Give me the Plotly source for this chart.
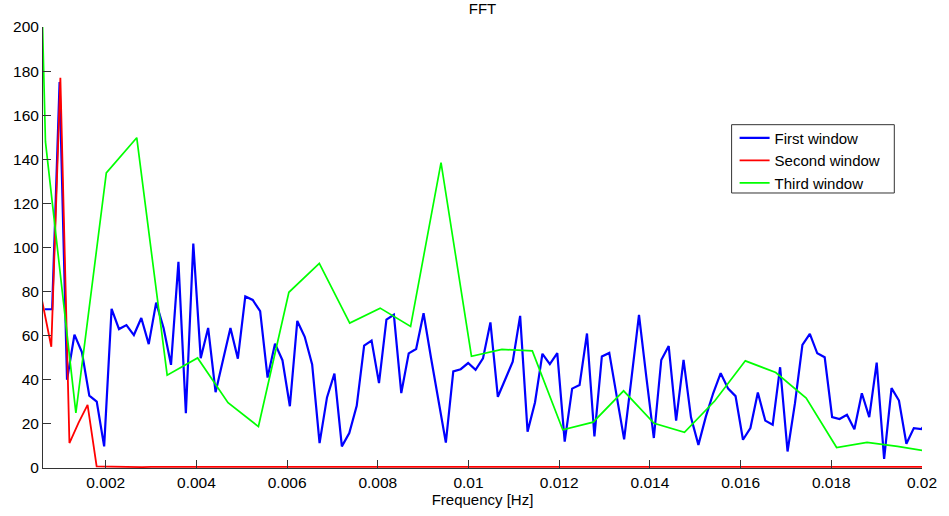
import numpy as np
import plotly.graph_objects as go

# FFT bin spacing (Hz) for each window and index of first plotted bin
df_first, first_start = 0.0001638, 4
df_second, second_start = 0.0002, 3
df_third, third_start = 0.000671, 0

first_window = [
    72, 72, 175, 40, 60.5, 52.6, 32.8, 30.1, 9.8, 72.2,
    63, 64.8, 60.3, 68, 56.2, 75, 63.5, 46.8, 93.5, 24.8,
    101.8, 49.8, 63.5, 34.4, 49, 63.5, 49.6, 77.8, 76.2, 71.1,
    41, 56.4, 48.9, 28, 66.7, 59.5, 47, 11.3, 32, 42.8,
    9.8, 15.8, 28.2, 55.5, 57.8, 38.5, 67.3, 69.5, 34, 52,
    54, 70.2, 50, 30, 11.5, 43.8, 44.8, 47.6, 44.5, 49.7,
    66, 32.3, 40.6, 48.2, 69, 16.5, 29.7, 51.8, 47.1, 52.1,
    12, 36, 37.6, 61, 14.3, 50.6, 52.2, 32.6, 13, 41,
    69.4, 41, 13.6, 49, 55.3, 21.5, 49, 23, 10.5, 23.3,
    34, 43, 36, 32.6, 12.8, 18.1, 34.2, 21.5, 19.6, 45.7,
    7.5, 29.4, 55.8, 60.8, 52, 50.2, 23.1, 22.2, 24.1, 17.6,
    33.9, 23.1, 47.8, 4.1, 36.2, 30.6, 11, 18.1, 17.6, 22,
]

second_window = [
    75.5, 55, 177, 11.3, 20.5, 28.6, 0.7, 0.6, 0.5, 0.5,
    0.6, 0.4, 0.5, 0.5, 0.4, 0.6, 0.5, 0.4, 0.5, 0.5,
    0.4, 0.5, 0.6, 0.5, 0.4, 0.5, 0.5, 0.4, 0.5, 0.5,
    0.6, 0.4, 0.5, 0.5, 0.4, 0.5, 0.5, 0.6, 0.4, 0.5,
    0.5, 0.4, 0.5, 0.5, 0.6, 0.5, 0.4, 0.5, 0.5, 0.4,
    0.5, 0.6, 0.5, 0.4, 0.5, 0.5, 0.4, 0.5, 0.5, 0.6,
    0.4, 0.5, 0.5, 0.4, 0.5, 0.5, 0.6, 0.4, 0.5, 0.5,
    0.4, 0.5, 0.5, 0.6, 0.5, 0.4, 0.5, 0.5, 0.4, 0.5,
    0.6, 0.5, 0.4, 0.5, 0.5, 0.4, 0.5, 0.5, 0.6, 0.4,
    0.5, 0.5, 0.4, 0.5, 0.5, 0.5, 0.4, 0.5,
]

third_window = [
    700, 148, 25, 133.8, 149.8, 42.1, 49.9, 29.6, 18.8, 79.7,
    92.8, 65.7, 72.5, 64.2, 138.5, 50.7, 53.8, 53.1, 17.3, 20.8,
    35, 20.3, 16.2, 30.5, 48.6, 43.3, 31.7, 9.3, 11.6, 9.8, 7.5,
]

x_ticks = [0.002, 0.004, 0.006, 0.008, 0.01, 0.012, 0.014, 0.016, 0.018, 0.02]
x_tick_labels = ["0.002", "0.004", "0.006", "0.008", "0.01", "0.012", "0.014", "0.016", "0.018", "0.02"]
y_ticks = [0, 20, 40, 60, 80, 100, 120, 140, 160, 180, 200]

f1 = (first_start + np.arange(len(first_window))) * df_first
f2 = (second_start + np.arange(len(second_window))) * df_second
f3 = (third_start + np.arange(len(third_window))) * df_third

FONT = "Liberation Sans, Arial, sans-serif"

fig = go.Figure()
fig.add_trace(go.Scatter(x=f1, y=first_window, mode="lines", name="First window",
                         line=dict(color="#0000ff", width=2.2)))
fig.add_trace(go.Scatter(x=f2, y=second_window, mode="lines", name="Second window",
                         line=dict(color="#ff0000", width=1.8)))
fig.add_trace(go.Scatter(x=f3, y=third_window, mode="lines", name="Third window",
                         line=dict(color="#00ff00", width=1.7)))

# legend frame (drawn as a shape so its size matches the original box)
fig.add_shape(type="rect", xref="paper", yref="paper",
              x0=0.7834, x1=0.9685, y0=0.6236, y1=0.7785,
              line=dict(color="#333", width=1), fillcolor="white", layer="above")

fig.update_layout(
    width=949, height=516,
    margin=dict(l=43, r=27, t=27, b=48),
    paper_bgcolor="white", plot_bgcolor="white",
    font=dict(family=FONT, size=15.5, color="#000"),
    title=dict(text="FFT", x=0.5, xref="paper", xanchor="center", y=0.983, yanchor="middle",
               font=dict(family=FONT, size=15, color="#000")),
    showlegend=True,
    legend=dict(x=0.7868, y=0.7855, xanchor="left", yanchor="top",
                borderwidth=0, bgcolor="rgba(0,0,0,0)",
                font=dict(family=FONT, size=15, color="#000")),
    xaxis=dict(range=[0.000617, 0.02], tickvals=x_ticks, ticktext=x_tick_labels,
               showgrid=False, zeroline=False, showline=True, linecolor="#333", linewidth=1,
               ticks="inside", ticklen=8, tickcolor="#333",
               title=dict(text="Frequency [Hz]", font=dict(family=FONT, size=15), standoff=4)),
    yaxis=dict(range=[0, 200], tickvals=y_ticks,
               showgrid=False, zeroline=False, showline=True, linecolor="#333", linewidth=1,
               ticks="inside", ticklen=8, tickcolor="#333"),
)

fig.write_html("out.html")
